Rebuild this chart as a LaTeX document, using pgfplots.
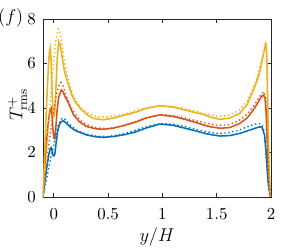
\documentclass[border=0pt]{standalone}
\usepackage{pgfplots}
\pgfplotsset{compat=1.18}
\definecolor{mblue}{rgb}{0,0.447,0.741}
\definecolor{morange}{rgb}{0.85,0.325,0.098}
\definecolor{myellow}{rgb}{0.929,0.694,0.125}
\definecolor{axgray}{rgb}{0.15,0.15,0.15}
\begin{document}
\begin{tikzpicture}
\path[use as bounding box] (-27.95pt,-35.1pt) rectangle (167.05pt,128.05pt);
\begin{axis}[
  scale only axis, width=148.2pt, height=115.7pt,
  at={(0,0)}, anchor=south west,
  xmin=-0.1, xmax=2, ymin=0, ymax=8,
  xtick={0,0.5,1,1.5,2}, ytick={0,2,4,6,8},
  xtick pos=both, ytick pos=both, tick align=inside,
  major tick length=2.5pt,
  axis line style={axgray, line width=0.5pt},
  tick style={axgray, line width=0.5pt},
  tick label style={font=\fontsize{11}{13}\selectfont},
  xticklabel style={yshift=-4.3pt},
  yticklabel style={xshift=-1.2pt},
  clip=true,
]
% solid
\addplot[mblue, line width=1pt] coordinates {
(-0.1,0) (-0.09,0.4) (-0.08,0.8) (-0.07,1.15) (-0.06,1.5) (-0.05,1.8) (-0.04,2.05) (-0.03,2.2) (-0.024,2.22) (-0.016,2.05) (-0.008,1.88) (0.0,1.85) (0.008,1.9) (0.02,2.4) (0.035,2.95) (0.05,3.25) (0.07,3.4) (0.09,3.42) (0.12,3.3) (0.15,3.15) (0.2,2.98) (0.3,2.79) (0.38,2.71) (0.455,2.68) (0.55,2.72) (0.65,2.8) (0.75,2.92) (0.85,3.1) (0.977,3.28) (1.1,3.22) (1.2,3.1) (1.3,2.98) (1.39,2.86) (1.45,2.8) (1.53,2.74) (1.62,2.76) (1.714,2.86) (1.8,3.0) (1.86,3.1) (1.9,3.16) (1.92,3.1) (1.94,2.8) (1.955,2.0) (1.965,1.2) (1.975,0.6) (1.99,0.1) (1.995,0)
};
\addplot[morange, line width=1pt] coordinates {
(-0.1,0) (-0.09,0.8) (-0.08,1.6) (-0.07,2.3) (-0.06,2.9) (-0.05,3.4) (-0.04,3.75) (-0.03,3.95) (-0.024,4.0) (-0.017,3.7) (-0.008,3.0) (0.0,2.65) (0.008,2.62) (0.018,3.1) (0.03,3.9) (0.045,4.5) (0.069,4.81) (0.085,4.72) (0.1,4.55) (0.137,4.2) (0.18,3.7) (0.24,3.36) (0.3,3.17) (0.38,3.07) (0.455,3.04) (0.55,3.1) (0.65,3.22) (0.75,3.36) (0.85,3.55) (0.977,3.69) (1.1,3.62) (1.2,3.5) (1.3,3.36) (1.39,3.22) (1.45,3.15) (1.53,3.09) (1.62,3.12) (1.714,3.31) (1.78,3.55) (1.837,3.91) (1.88,4.25) (1.91,4.5) (1.93,4.58) (1.945,4.45) (1.955,3.8) (1.965,2.5) (1.975,1.2) (1.985,0.4) (1.995,0)
};
\addplot[myellow, line width=1pt] coordinates {
(-0.1,0) (-0.09,1.3) (-0.08,2.6) (-0.07,3.8) (-0.06,4.9) (-0.05,5.9) (-0.042,6.5) (-0.034,6.7) (-0.027,6.3) (-0.02,5.3) (-0.012,4.2) (-0.004,3.7) (0.004,3.65) (0.012,4.1) (0.022,5.2) (0.032,6.3) (0.045,6.98) (0.06,6.8) (0.08,6.15) (0.1,5.6) (0.137,5.0) (0.164,4.6) (0.2,4.25) (0.24,4.0) (0.3,3.72) (0.363,3.53) (0.455,3.47) (0.55,3.55) (0.65,3.68) (0.747,3.8) (0.85,3.98) (0.977,4.1) (1.1,4.04) (1.2,3.92) (1.3,3.8) (1.39,3.69) (1.45,3.58) (1.53,3.49) (1.62,3.55) (1.714,3.76) (1.78,4.15) (1.837,4.8) (1.87,5.2) (1.9,5.7) (1.93,6.4) (1.95,6.88) (1.957,6.75) (1.963,6.0) (1.97,4.0) (1.977,2.2) (1.985,0.8) (1.995,0)
};
% dotted
\addplot[mblue, line width=0.9pt, dash pattern=on 0.9pt off 1.7pt] coordinates {
(-0.1,0) (-0.08,0.5) (-0.06,1.0) (-0.04,1.5) (-0.02,1.95) (0.0,2.35) (0.02,2.8) (0.04,3.2) (0.06,3.45) (0.08,3.55) (0.1,3.5) (0.13,3.35) (0.17,3.15) (0.22,2.97) (0.3,2.82) (0.4,2.73) (0.5,2.72) (0.6,2.8) (0.7,2.92) (0.8,3.08) (0.9,3.22) (1.0,3.3) (1.1,3.27) (1.2,3.17) (1.3,3.05) (1.4,2.94) (1.5,2.86) (1.6,2.88) (1.7,3.0) (1.78,3.15) (1.84,3.26) (1.88,3.31) (1.91,3.28) (1.93,3.1) (1.945,2.6) (1.96,1.6) (1.97,0.9) (1.985,0.3) (2.0,0)
};
\addplot[morange, line width=0.9pt, dash pattern=on 0.9pt off 1.7pt] coordinates {
(-0.1,0) (-0.08,0.9) (-0.06,1.8) (-0.04,2.6) (-0.02,3.3) (0.0,3.9) (0.02,4.5) (0.045,5.0) (0.065,5.15) (0.085,5.0) (0.11,4.6) (0.15,4.1) (0.2,3.7) (0.25,3.42) (0.3,3.25) (0.4,3.1) (0.5,3.08) (0.6,3.16) (0.7,3.3) (0.8,3.48) (0.9,3.62) (1.0,3.7) (1.1,3.66) (1.2,3.56) (1.3,3.44) (1.4,3.32) (1.5,3.22) (1.6,3.24) (1.7,3.42) (1.78,3.72) (1.84,4.1) (1.88,4.4) (1.92,4.68) (1.935,4.73) (1.95,4.5) (1.96,3.6) (1.97,2.3) (1.98,1.0) (1.99,0.3) (2.0,0)
};
\addplot[myellow, line width=0.9pt, dash pattern=on 0.9pt off 1.7pt] coordinates {
(-0.1,0) (-0.08,1.3) (-0.06,2.6) (-0.04,3.9) (-0.02,5.1) (0.0,6.2) (0.02,7.1) (0.04,7.55) (0.055,7.45) (0.07,7.0) (0.09,6.3) (0.12,5.5) (0.16,4.8) (0.2,4.35) (0.25,4.0) (0.3,3.8) (0.4,3.6) (0.5,3.6) (0.6,3.68) (0.7,3.8) (0.8,3.95) (0.9,4.05) (1.0,4.1) (1.1,4.07) (1.2,3.98) (1.3,3.86) (1.4,3.74) (1.5,3.63) (1.6,3.65) (1.7,3.88) (1.78,4.3) (1.84,4.95) (1.88,5.5) (1.92,6.3) (1.95,6.97) (1.96,6.6) (1.97,4.5) (1.98,2.2) (1.99,0.8) (2.0,0)
};
\end{axis}
\node[font=\fontsize{12}{14}\selectfont, rotate=90] at (-16.5pt,60pt) {$T^+_{\mathrm{rms}}$};
\node[font=\fontsize{12}{14}\selectfont] at (74.1pt,-26pt) {$y/H$};
\node[font=\fontsize{12}{14}\selectfont] at (-21pt,116.5pt) {$(f)$};
\end{tikzpicture}
\end{document}
